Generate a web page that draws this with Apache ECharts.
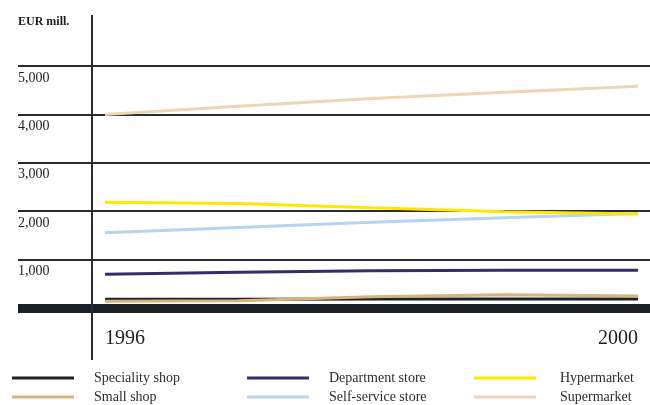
<!DOCTYPE html>
<html>
<head>
<meta charset="utf-8">
<script src="https://cdn.jsdelivr.net/npm/echarts@6/dist/echarts.min.js"></script>
<style>
  html, body { margin: 0; padding: 0; background: #ffffff; }
  #chart { width: 650px; height: 405px; }
</style>
</head>
<body>
<div id="chart"></div>
<script>
// Retail sales by store type, EUR million
const years = ['1996', '1997', '1998', '1999', '2000'];
const specialityShop  = [180, 180, 185, 185, 185];
const smallShop       = [140, 150, 235, 275, 250];
const departmentStore = [695, 740, 770, 780, 780];
const selfServiceStore = [1555, 1665, 1770, 1865, 1950];
const hypermarket     = [2185, 2160, 2070, 1990, 1940];
const supermarket     = [4000, 4170, 4330, 4460, 4580];
const yTickValues = [0, 1000, 2000, 3000, 4000, 5000];

const serifFont = '"Liberation Serif", "DejaVu Serif", serif';
const ink = '#262c31';

const seriesDefs = [
  { name: 'Speciality shop',    data: specialityShop,   color: '#1d2329' },
  { name: 'Small shop',         data: smallShop,        color: '#d9b27c' },
  { name: 'Department store',   data: departmentStore,  color: '#372c68' },
  { name: 'Self-service store', data: selfServiceStore, color: '#b6d4ee' },
  { name: 'Hypermarket',        data: hypermarket,      color: '#ffe600' },
  { name: 'Supermarket',        data: supermarket,      color: '#ecd6b6' }
];

function legendColumn(left, names, gap) {
  return {
    orient: 'vertical',
    left: left,
    top: 371,
    height: 34,
    padding: 0,
    data: names,
    icon: 'rect',
    itemWidth: 62,
    itemHeight: 3,
    itemGap: 5,
    selectedMode: false,
    textStyle: {
      fontFamily: serifFont,
      fontSize: 14,
      lineHeight: 14,
      color: '#2b2b2b',
      padding: [0, 0, 0, gap]
    }
  };
}

const chart = echarts.init(document.getElementById('chart'), null, { renderer: 'canvas' });

chart.setOption({
  animation: false,
  backgroundColor: '#ffffff',
  title: {
    text: 'EUR mill.',
    left: 13,
    top: 11,
    textStyle: { fontFamily: serifFont, fontSize: 12, fontWeight: 'bold', color: '#1d1d1d' }
  },
  legend: [
    legendColumn(12, ['Speciality shop', 'Small shop'], 15),
    legendColumn(247, ['Department store', 'Self-service store'], 15),
    legendColumn(474, ['Hypermarket', 'Supermarket'], 19)
  ],
  grid: [
    { left: 105, right: 12, top: 66, bottom: 97 },
    { left: 18, right: 0, top: 66, bottom: 97 }
  ],
  xAxis: [
    {
      type: 'category',
      gridIndex: 0,
      data: years,
      boundaryGap: false,
      axisLine: { show: false },
      axisTick: { show: false },
      splitLine: { show: false },
      axisLabel: {
        interval: function (index) { return index === 0 || index === years.length - 1; },
        alignMinLabel: 'left',
        alignMaxLabel: 'right',
        margin: 21,
        fontFamily: serifFont,
        fontSize: 20,
        color: '#1d1d1d'
      }
    },
    {
      type: 'value',
      gridIndex: 1,
      min: 0,
      max: 1,
      axisLine: { show: true, lineStyle: { color: '#1b2227', width: 9, cap: 'butt' } },
      axisTick: { show: false },
      axisLabel: { show: false },
      splitLine: { show: false }
    }
  ],
  yAxis: [
    {
      type: 'value',
      gridIndex: 0,
      min: 0,
      max: 5000,
      interval: 1000,
      show: false,
      splitLine: { show: false }
    },
    {
      type: 'value',
      gridIndex: 1,
      min: yTickValues[0],
      max: yTickValues[yTickValues.length - 1],
      interval: 1000,
      axisLine: { show: false },
      axisTick: { show: false },
      splitLine: { show: true, lineStyle: { color: ink, width: 2 } },
      axisLabel: {
        inside: true,
        margin: 0,
        align: 'left',
        verticalAlign: 'top',
        padding: [5, 0, 0, 0],
        fontFamily: serifFont,
        fontSize: 14,
        color: '#1d1d1d',
        formatter: function (v) { return v === 0 ? '' : v.toLocaleString('en-US'); }
      }
    }
  ],
  graphic: [
    {
      type: 'line',
      z: 10,
      shape: { x1: 92, y1: 15, x2: 92, y2: 360 },
      style: { stroke: ink, lineWidth: 2 }
    }
  ],
  series: seriesDefs.map(function (s) {
    return {
      name: s.name,
      type: 'line',
      xAxisIndex: 0,
      yAxisIndex: 0,
      data: s.data,
      showSymbol: false,
      symbol: 'none',
      color: s.color,
      lineStyle: { color: s.color, width: 3 },
      emphasis: { disabled: true },
      z: 5
    };
  })
});
</script>
</body>
</html>
